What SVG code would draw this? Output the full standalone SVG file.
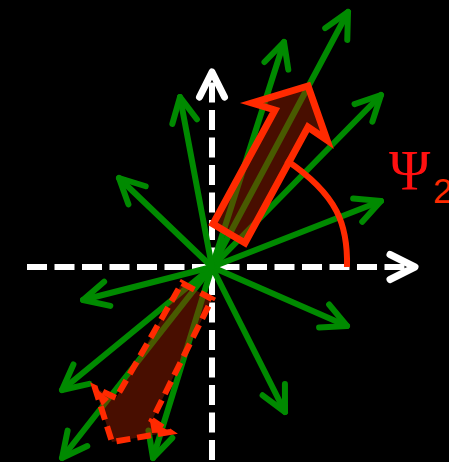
<svg xmlns="http://www.w3.org/2000/svg" width="449" height="462" viewBox="0 0 449 462">
  <style>
    .axis { fill: none; stroke: #ffffff; stroke-width: 6; stroke-dasharray: 20 7.5; }
    .ray { fill: none; stroke: #008a00; stroke-width: 6; stroke-linecap: round; marker-end: url(#ghead); }
    .vec { fill: #a01e00; fill-opacity: 0.45; stroke: #ff2a00; stroke-width: 7; stroke-linejoin: miter; stroke-miterlimit: 10; }
    .vec-dash { fill: #a01e00; fill-opacity: 0.45; stroke: #ff2a00; stroke-width: 6; stroke-dasharray: 14 7; stroke-linejoin: miter; stroke-miterlimit: 10; }
    .arc { fill: none; stroke: #ff2a00; stroke-width: 6; }
  </style>
  <defs>
    <marker id="ghead" markerUnits="userSpaceOnUse" orient="auto" refX="0" refY="0" markerWidth="60" markerHeight="60" style="overflow:visible">
      <path d="M-25,-12.5 L0,0 L-25,12.5" fill="none" stroke="#008a00" stroke-width="6" stroke-linecap="round" stroke-linejoin="round"/>
    </marker>
    <marker id="whead" markerUnits="userSpaceOnUse" orient="auto" refX="0" refY="0" markerWidth="60" markerHeight="60" style="overflow:visible">
      <path d="M-25,-12.5 L0,0 L-25,12.5" fill="none" stroke="#ffffff" stroke-width="7" stroke-linecap="round" stroke-linejoin="round"/>
    </marker>
  </defs>
  <rect x="0" y="0" width="449" height="462" fill="#000000"/>

  <g id="axes">
    <path class="axis" d="M27,267 H415" marker-end="url(#whead)"/>
    <path class="axis" d="M212,462 V72" stroke-dashoffset="-2" marker-end="url(#whead)"/>
  </g>

  <g id="connectors">
    <path class="ray" d="M212,267 L348,12"/>
    <path class="ray" d="M212,267 L284,42"/>
    <path class="ray" d="M212,267 L381,95"/>
    <path class="ray" d="M212,267 L381,201"/>
    <path class="ray" d="M212,267 L347,326"/>
    <path class="ray" d="M212,267 L285,412"/>
    <path class="ray" d="M212,267 L153,458"/>
    <path class="ray" d="M212,267 L62,458"/>
    <path class="ray" d="M212,267 L62,390"/>
    <path class="ray" d="M212,267 L83,300"/>
    <path class="ray" d="M212,267 L119,178"/>
    <path class="ray" d="M212,267 L180,97"/>
  </g>

  <g id="angle">
    <path class="arc" d="M347,267 C348,225 338,195 286,160"/>
    <text x="389" y="190" font-family="'Liberation Serif', 'DejaVu Serif', serif" font-size="56" fill="#ff1010">Ψ</text>
    <text x="433" y="203" font-family="'Liberation Sans', Arial, sans-serif" font-size="35" fill="#ff2a00">2</text>
  </g>

  <g id="vector-up">
    <polygon class="vec" points="308,86 327,140 308,127 245,243 213,224 275,110 252,103"/>
  </g>

  <g id="vector-down">
    <polygon class="vec-dash" points="182,283 212,299 152,420 170,432 112,442 95,388 116,398"/>
    <polygon points="94,387 109,399 102,406" fill="#ff2a00"/>
    <polygon points="150,421 171,432 152,433" fill="#ff2a00"/>
  </g>
</svg>
